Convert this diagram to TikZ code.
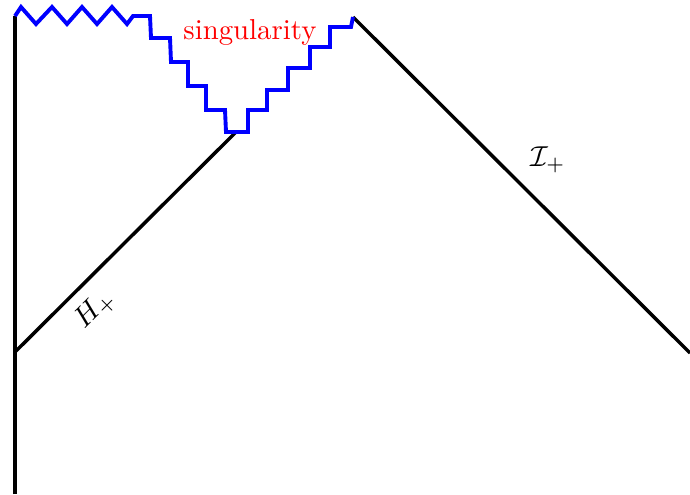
\documentclass[tikz,border=0pt]{standalone}
\begin{document}
\begin{tikzpicture}[x=0.3472pt,y=-0.3472pt, line join=miter,
  bh/.style={line width=1.2pt,black},
  sing/.style={line width=1.35pt,blue},
  lbl/.style={inner sep=0pt}]
\useasboundingbox (0,0) rectangle (690,494);
\coordinate (top) at (15,16);
\coordinate (bot) at (15,494);
\coordinate (hstart) at (15,352);
\coordinate (vertex) at (236,132);
\coordinate (rtop) at (353,17);
\coordinate (rend) at (690,353);
\draw[bh] (bot) -- (top);
\draw[bh] (hstart) -- (vertex);
\draw[bh] (rtop) -- (rend);
\draw[sing] (top) -- (21,7) -- (36,24) -- (52,7) -- (67,24) -- (82,7) -- (97,24) -- (112,7) -- (127,24) -- (133,16) -- (150,16)
  -- (151,38) -- (170,38) -- (171,62) -- (188,62) -- (188,86) -- (206,86) -- (206,110) -- (225,110) -- (226,132) -- (248,132)
  -- (248,110) -- (267,110) -- (267,90) -- (288,90) -- (288,68) -- (310,68) -- (310,47) -- (330,47) -- (330,27) -- (351,27) -- (rtop);
\node[red, lbl] (singlabel) at (250,32) {singularity};
\node[lbl, rotate=45] (hlabel) at (95,310) {$H_+$};
\node[lbl] (scri) at (548,160) {$\mathcal{I}_+$};
\end{tikzpicture}
\end{document}
